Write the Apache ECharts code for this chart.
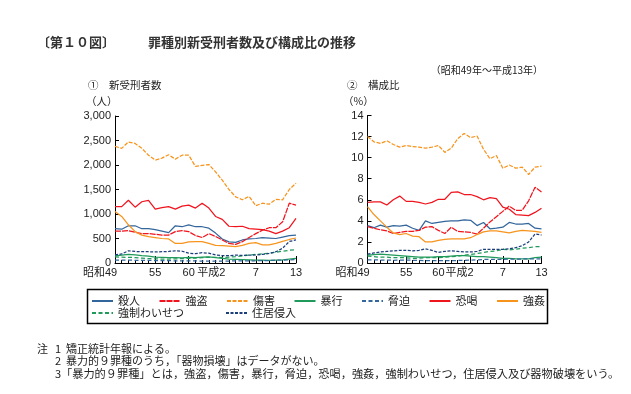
<!DOCTYPE html>
<html><head><meta charset="utf-8">
<script src="https://cdn.jsdelivr.net/npm/echarts/dist/echarts.min.js"></script>
<style>html,body{margin:0;padding:0;background:#fff}#c{width:631px;height:394px}</style>
</head><body><div id="c"></div>
<script>
// ---- data ----
const years = ['昭和49','50','51','52','53','54','55','56','57','58','59','60','61','62','63','平成元','2','3','4','5','6','7','8','9','10','11','12','13'];
const tickLabelIdx = [0, 6, 11, 16, 21, 27];
const tickLabels = ['昭和49', '55', '60', '平成2', '7', '13'];
const seriesNames = ['殺人','強盗','傷害','暴行','脅迫','恐喝','強姦','強制わいせつ','住居侵入'];

// ① 新受刑者数 (人)
const nSatsujin  = [700,690,760,760,700,700,680,650,620,760,740,780,740,740,710,610,490,430,420,470,490,500,520,510,500,530,560,570];
const nGoutou    = [650,650,660,630,600,600,585,570,570,640,660,640,560,520,600,540,470,400,380,435,520,600,670,720,720,840,1220,1180];
const nShougai   = [2380,2340,2470,2440,2340,2200,2100,2140,2210,2120,2200,2200,1970,1990,2010,1860,1690,1500,1350,1290,1360,1170,1220,1200,1300,1290,1500,1630];
const nBoukou    = [145,160,175,165,150,140,120,115,110,110,105,115,110,120,125,110,95,80,75,70,65,60,60,55,60,65,80,95];
const nKyouhaku  = [60,60,58,55,55,55,50,50,48,45,45,45,42,40,40,38,38,40,42,45,45,45,50,50,55,60,65,68];
const nKyoukatsu = [1150,1150,1280,1140,1250,1280,1100,1130,1150,1100,1160,1180,1120,1220,1120,950,890,750,740,750,700,690,680,650,600,650,720,910];
const nGoukan    = [1050,950,780,640,570,540,520,500,490,400,400,430,435,435,400,360,355,345,335,360,400,415,370,370,400,440,480,510];
const nWaisetsu  = [125,120,115,110,100,90,85,80,80,85,90,95,100,110,115,115,110,120,130,145,160,175,185,200,220,240,260,270];
const nJuukyo    = [165,185,250,235,230,230,225,230,235,250,240,200,190,210,200,165,150,150,160,155,160,165,175,195,230,300,440,470];

// ② 構成比 (%)
const rSatsujin  = [3.55,3.35,3.6,3.4,3.55,3.5,3.6,3.3,3.1,4.0,3.75,3.85,3.95,4.0,4.0,4.1,4.05,3.55,3.85,3.25,3.3,3.4,3.85,3.7,3.7,3.75,3.3,3.25];
const rGoutou    = [3.45,3.3,3.15,3.05,2.8,2.9,3.0,3.0,3.1,3.4,3.45,3.1,2.8,3.4,3.0,2.95,2.9,2.75,3.3,3.9,4.4,4.9,5.4,5.0,5.0,5.9,7.2,6.75];
const rShougai   = [12.0,11.5,11.35,11.6,11.25,11.0,11.15,11.05,11.0,10.9,11.0,11.15,10.5,10.9,11.8,12.3,11.9,12.05,10.8,9.9,10.2,9.0,9.3,9.0,9.1,8.4,9.1,9.2];
const rBoukou    = [0.75,0.8,0.85,0.8,0.75,0.7,0.65,0.6,0.55,0.55,0.55,0.6,0.6,0.65,0.7,0.7,0.65,0.6,0.6,0.55,0.5,0.45,0.45,0.4,0.4,0.4,0.5,0.55];
const rKyouhaku  = [0.3,0.3,0.28,0.27,0.26,0.27,0.27,0.26,0.24,0.23,0.22,0.23,0.23,0.22,0.24,0.25,0.27,0.3,0.33,0.35,0.34,0.35,0.38,0.37,0.38,0.39,0.39,0.38];
const rKyoukatsu = [5.75,5.8,5.8,5.5,6.0,6.35,5.85,5.85,5.75,5.6,5.75,6.05,6.05,6.7,6.75,6.5,6.5,6.3,6.0,6.2,6.1,5.3,5.1,4.6,4.55,4.5,4.8,5.2];
const rGoukan    = [5.35,4.6,4.0,3.4,2.85,2.7,2.8,2.55,2.5,2.0,2.0,2.15,2.25,2.3,2.3,2.3,2.4,2.7,2.95,3.05,3.05,2.95,2.85,3.0,3.1,3.05,3.0,2.9];
const rWaisetsu  = [0.65,0.6,0.55,0.55,0.5,0.5,0.5,0.45,0.45,0.5,0.5,0.5,0.55,0.6,0.65,0.75,0.8,0.9,1.0,1.1,1.15,1.3,1.25,1.3,1.4,1.45,1.55,1.55];
const rJuukyo    = [0.85,0.95,1.05,1.1,1.15,1.2,1.2,1.15,1.2,1.35,1.2,1.0,1.1,1.15,1.1,1.05,1.05,1.1,1.3,1.3,1.3,1.3,1.35,1.45,1.65,2.0,2.75,2.65];

const countData = [nSatsujin,nGoutou,nShougai,nBoukou,nKyouhaku,nKyoukatsu,nGoukan,nWaisetsu,nJuukyo];
const ratioData = [rSatsujin,rGoutou,rShougai,rBoukou,rKyouhaku,rKyoukatsu,rGoukan,rWaisetsu,rJuukyo];

// ---- styles ----
const BLUE = '#33669c', RED = '#f0141e', ORANGE = '#f7941d', GREEN = '#1f9a5a', NAVY = '#1c3f7c';
const styles = [
  {color: BLUE,   type: 'solid'},
  {color: RED,    type: [6, 1]},
  {color: ORANGE, type: [4, 1.5]},
  {color: GREEN,  type: 'solid'},
  {color: BLUE,   type: [4, 2.5]},
  {color: RED,    type: 'solid'},
  {color: ORANGE, type: 'solid'},
  {color: GREEN,  type: [4, 2.5]},
  {color: NAVY,   type: [3, 1.5]}
];
const FONT = 'Arial, "Liberation Sans", "Noto Sans CJK JP", sans-serif';
const JFONT = '"Noto Sans CJK JP", sans-serif';

function xAxesFor(gridIndex) {
  const base = {type: 'category', gridIndex, position: 'bottom', data: years, boundaryGap: false, splitLine: {show: false}};
  return [
    Object.assign({}, base, {
      axisLine: {show: true, lineStyle: {color: '#000', width: 1}},
      axisTick: {show: true, inside: true, length: 3, interval: 0, lineStyle: {color: '#000'}},
      axisLabel: {show: false}
    }),
    Object.assign({}, base, {
      axisLine: {show: false},
      axisTick: {show: true, inside: true, length: 7, interval: (i) => tickLabelIdx.includes(i), lineStyle: {color: '#000'}},
      axisLabel: {
        show: true, interval: (i) => tickLabelIdx.includes(i), margin: 4,
        fontSize: 11, color: '#222', fontFamily: FONT,
        formatter: (v, i) => {
          const k = tickLabelIdx.indexOf(i);
          const t = k >= 0 ? tickLabels[k] : '';
          if (k === 0) return t + '{s|}';
          if (k === 3) return t + '{p|}';
          return t;
        },
        rich: {s: {width: 30}, p: {width: 22}}
      }
    })
  ];
}
function yAxisFor(gridIndex, max, interval, fmt) {
  return {
    type: 'value', gridIndex, position: 'left', min: 0, max, interval,
    axisLine: {show: true, lineStyle: {color: '#000', width: 1}},
    axisTick: {show: true, inside: true, length: 4, lineStyle: {color: '#000'}},
    axisLabel: {margin: 4, fontSize: 11, color: '#222', fontFamily: FONT, formatter: fmt},
    splitLine: {show: false}
  };
}

const series = [];
seriesNames.forEach((name, k) => {
  const ls = {color: styles[k].color, width: 1.25, type: styles[k].type};
  series.push({name, type: 'line', xAxisIndex: 0, yAxisIndex: 0, data: countData[k],
    symbol: 'none', color: styles[k].color, lineStyle: ls, animation: false});
  series.push({name, type: 'line', xAxisIndex: 2, yAxisIndex: 1, data: ratioData[k],
    symbol: 'none', color: styles[k].color, lineStyle: ls, animation: false});
});

const legendData = seriesNames.map(n => n === '強制わいせつ' ? {name: n, textStyle: {width: 107}} : {name: n});

function txt(x, y, s, size, opts) {
  return Object.assign({type: 'text', x, y, style: Object.assign({text: s, fontSize: size, fontFamily: JFONT, fill: '#222', verticalAlign: 'middle'}, opts || {})});
}

const option = {
  backgroundColor: '#fff',
  animation: false,
  grid: [
    {left: 115, top: 116, width: 181, height: 147, outerBoundsMode: 'none', containLabel: false},
    {left: 367.5, top: 115.5, width: 174, height: 147.5, outerBoundsMode: 'none', containLabel: false}
  ],
  xAxis: [...xAxesFor(0), ...xAxesFor(1)],
  yAxis: [
    yAxisFor(0, 3000, 500, (v) => v.toLocaleString('en-US')),
    yAxisFor(1, 14, 2, (v) => String(v))
  ],
  legend: {
    data: legendData, left: 91, top: 295, width: 520, padding: 0,
    itemGap: 0, itemWidth: 21, itemHeight: 10,
    itemStyle: {opacity: 0},
    textStyle: {fontSize: 11, fontFamily: JFONT, color: '#222', width: 40.5, lineHeight: 12},
    selectedMode: false
  },
  graphic: [
    txt(37, 42, '〔第１０図〕', 13, {fontWeight: 'bold', fill: '#333'}),
    txt(148, 42, '罪種別新受刑者数及び構成比の推移', 13, {fontWeight: 'bold', fill: '#333'}),
    txt(543, 70, '（昭和49年～平成13年）', 10, {align: 'right'}),
    txt(88, 85, '①　新受刑者数', 10.5),
    txt(86, 101, '（人）', 10.5),
    txt(347, 85, '②　構成比', 10.5),
    txt(343, 101, '（%）', 10.5),
    {type: 'rect', shape: {x: 87.5, y: 289.5, width: 460, height: 34},
     style: {fill: 'none', stroke: '#000', lineWidth: 1.5}},
    txt(37, 349, '注', 11),
    txt(55, 349, '1', 11),
    txt(66, 349, '矯正統計年報による。', 11),
    txt(55, 361, '2', 11),
    txt(66, 361, '暴力的９罪種のうち，「器物損壊」はデータがない。', 11),
    txt(55, 374, '3', 11),
    txt(61, 374, '「暴力的９罪種」とは，強盗，傷害，暴行，脅迫，恐喝，強姦，強制わいせつ，住居侵入及び器物破壊をいう。', 11.2)
  ],
  series
};
const chart = echarts.init(document.getElementById('c'), null, {renderer: 'canvas'});
chart.setOption(option);
</script>
</body></html>
